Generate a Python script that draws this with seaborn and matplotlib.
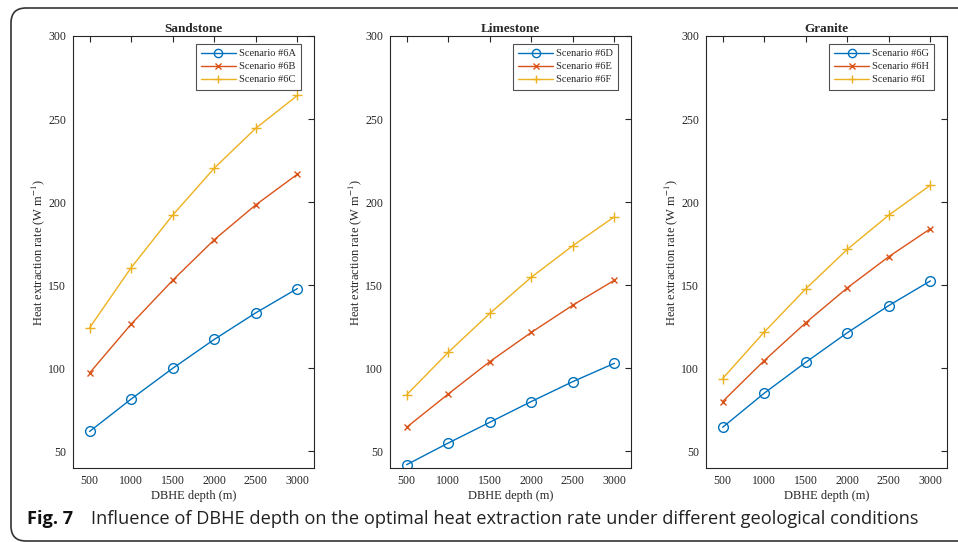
import matplotlib
matplotlib.use("Agg")
import matplotlib.pyplot as plt
import seaborn as sns
import numpy as np
from matplotlib.patches import FancyBboxPatch

depth = [500, 1000, 1500, 2000, 2500, 3000]

titles = ["Sandstone", "Limestone", "Granite"]
labels = [["Scenario #6A", "Scenario #6B", "Scenario #6C"],
          ["Scenario #6D", "Scenario #6E", "Scenario #6F"],
          ["Scenario #6G", "Scenario #6H", "Scenario #6I"]]

sand_a = [62, 81.5, 100, 117.4, 133.4, 148]
sand_b = [97.2, 126.6, 153, 177.4, 198.4, 216.8]
sand_c = [124.4, 160.6, 192.2, 220.5, 244.5, 264.2]

lime_d = [42, 55, 67.5, 80, 92, 103]
lime_e = [64.5, 84.5, 104, 121.6, 138, 153]
lime_f = [84, 109.6, 133, 154.8, 173.8, 191.2]

gran_g = [64.5, 85, 103.6, 121.4, 137.8, 152.6]
gran_h = [80, 104.6, 127.4, 148.4, 167.2, 184]
gran_i = [93.8, 121.8, 147.8, 171.6, 192.2, 210.2]

data = [[sand_a, sand_b, sand_c], [lime_d, lime_e, lime_f], [gran_g, gran_h, gran_i]]

colors = ["#0072BD", "#D95319", "#EDB120"]
markers = ["o", "x", "+"]
msizes = [7, 5, 7]

sns.set_theme(style="white")
plt.rcParams["font.family"] = ["Liberation Serif", "DejaVu Serif"]
plt.rcParams["mathtext.fontset"] = "stix"

fig = plt.figure(figsize=(9.58, 5.42), dpi=100)
W, H = 958, 542
lefts = [73, 390, 706]
top, bottom = 36, 468
width = 241

for k in range(3):
    ax = fig.add_axes([lefts[k] / W, (H - bottom) / H, width / W, (bottom - top) / H])
    for j in range(3):
        kw = dict(color=colors[j], marker=markers[j], linewidth=1.0,
                  markersize=msizes[j], markeredgecolor=colors[j],
                  markeredgewidth=1.0, label=labels[k][j])
        if j == 0:
            kw["markerfacecolor"] = "none"
        sns.lineplot(x=depth, y=data[k][j], ax=ax, **kw)
    ax.set_xlim(300, 3200)
    ax.set_ylim(40, 300)
    ax.set_xticks(depth)
    ax.set_yticks([50, 100, 150, 200, 250, 300])
    ax.tick_params(direction="in", length=4, width=0.8, top=True, right=True,
                   labelsize=8.5, colors="#262626", pad=5)
    for s in ax.spines.values():
        s.set_color("#262626")
        s.set_linewidth(0.8)
    ax.set_title(titles[k], fontsize=9.5, fontweight="bold", pad=3)
    ax.set_xlabel("DBHE depth (m)", fontsize=9, labelpad=2)
    ax.set_ylabel(r"Heat extraction rate (W m$^{-1}$)", fontsize=9, labelpad=1)
    leg = ax.legend(loc="upper right", bbox_to_anchor=(1 - 13 / width, 1 - 8 / (bottom - top)),
                    borderaxespad=0, fontsize=7.5, frameon=True, fancybox=False,
                    edgecolor="#262626", handlelength=3.3, handletextpad=0.3,
                    labelspacing=0.35, borderpad=0.5, markerscale=0.85)
    leg.get_frame().set_linewidth(0.8)

# rounded border (display pixel coordinates)
box = FancyBboxPatch((11, H - 541), 1000, 541 - 8,
                     boxstyle="round,pad=0,rounding_size=15",
                     transform=None, fill=False, edgecolor="#333333",
                     linewidth=1.2, clip_on=False)
fig.patches.append(box)

fig.text(27 / W, 1 - 519 / H, "Fig. 7", fontsize=13.1, fontweight="bold",
         family=["Open Sans", "DejaVu Sans"], va="center", ha="left", color="#111111")
fig.text(91 / W, 1 - 519 / H,
         "Influence of DBHE depth on the optimal heat extraction rate under different geological conditions",
         fontsize=13.15, family=["Open Sans", "DejaVu Sans"], va="center", ha="left", color="#222222")

fig.savefig("out.png", dpi=100)
